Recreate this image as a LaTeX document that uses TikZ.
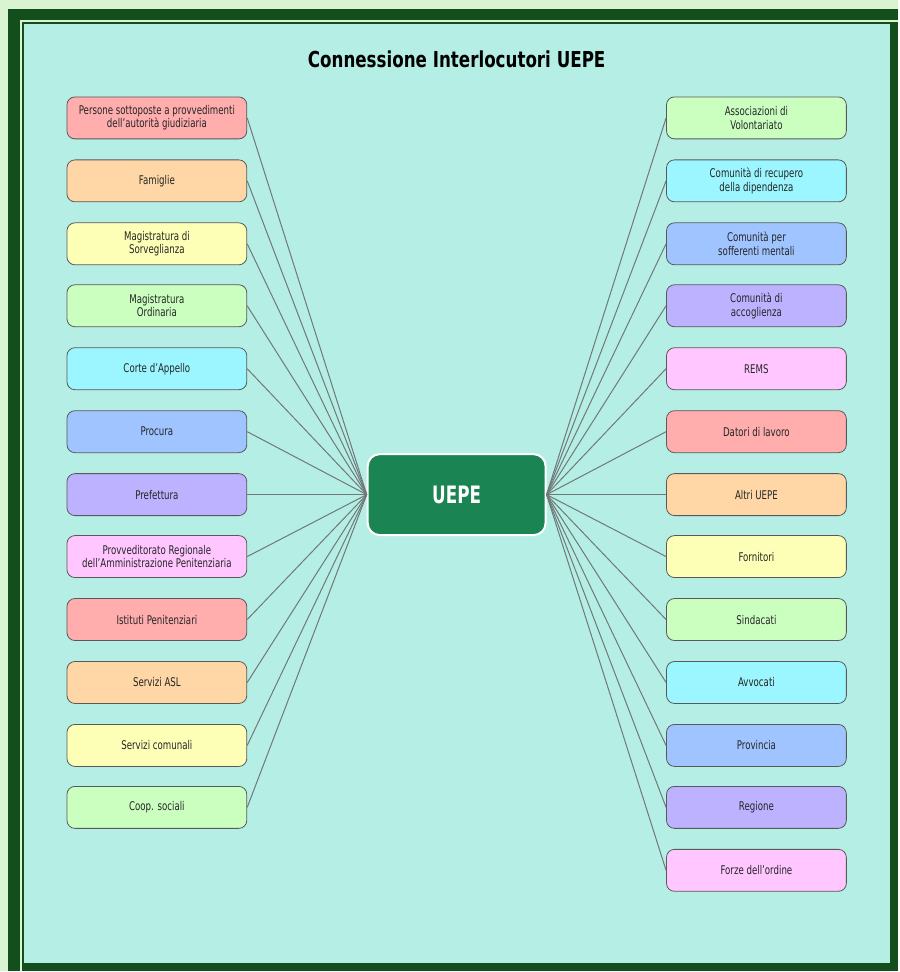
\documentclass[tikz,border=0pt]{standalone}
\usepackage{fontspec}
\setmainfont{DejaVu Sans}[FakeStretch=0.72]
\newfontfamily\titlefont{DejaVu Sans}[FakeStretch=0.76]
\newfontfamily\hubfont{DejaVu Sans}[FakeStretch=0.7]
\definecolor{bgout}{HTML}{DAF3D1}
\definecolor{frame}{HTML}{134F1C}
\definecolor{panel}{HTML}{B5EEE4}
\definecolor{hub}{HTML}{1A8553}
\definecolor{link}{HTML}{707878}
\definecolor{cA}{HTML}{FFADAD}
\definecolor{cB}{HTML}{FFD6A5}
\definecolor{cC}{HTML}{FDFFB6}
\definecolor{cD}{HTML}{CAFFBF}
\definecolor{cE}{HTML}{9BF6FF}
\definecolor{cF}{HTML}{A0C4FF}
\definecolor{cG}{HTML}{BDB2FF}
\definecolor{cH}{HTML}{FFC6FF}
\tikzset{
  box/.style={draw=black!65, line width=0.8pt, rounded corners=8pt, minimum width=180pt, minimum height=42pt, inner sep=2pt, align=center, text=black!85, font=\fontsize{12}{13.5}\selectfont},
  conn/.style={draw=link, line width=1pt},
}
\begin{document}
\begin{tikzpicture}[x=1pt,y=-1pt]
\fill[bgout] (0,0) rectangle (899,972);
\fill[frame] (8,9) rectangle (899,972);
\draw[bgout, line width=1.5pt] (21,972) -- (21,21) -- (899,21);
\fill[panel] (24,24) rectangle (891,964);
\useasboundingbox (0,0) rectangle (899,972);

\node[font=\titlefont\bfseries\fontsize{22}{24}\selectfont] (title) at (457,59) {Connessione Interlocutori UEPE};

\node[draw=white, line width=2pt, fill=hub, rounded corners=12pt, minimum width=178pt, minimum height=81pt, text=white, font=\hubfont\bfseries\fontsize{24}{26}\selectfont] (hubnode) at (457,495) {UEPE};

\node[box, fill=cA] (L1) at (157,118) {Persone sottoposte a provvedimenti\\dell’autorità giudiziaria};
\node[box, fill=cB] (L2) at (157,181) {Famiglie};
\node[box, fill=cC] (L3) at (157,244) {Magistratura di\\Sorveglianza};
\node[box, fill=cD] (L4) at (157,306) {Magistratura\\Ordinaria};
\node[box, fill=cE] (L5) at (157,369) {Corte d’Appello};
\node[box, fill=cF] (L6) at (157,432) {Procura};
\node[box, fill=cG] (L7) at (157,495) {Prefettura};
\node[box, fill=cH] (L8) at (157,557) {Provveditorato Regionale\\dell’Amministrazione Penitenziaria};
\node[box, fill=cA] (L9) at (157,620) {Istituti Penitenziari};
\node[box, fill=cB] (L10) at (157,683) {Servizi ASL};
\node[box, fill=cC] (L11) at (157,746) {Servizi comunali};
\node[box, fill=cD] (L12) at (157,808) {Coop. sociali};

\node[box, fill=cD] (R1) at (757,118) {Associazioni di\\Volontariato};
\node[box, fill=cE] (R2) at (757,181) {Comunità di recupero\\della dipendenza};
\node[box, fill=cF] (R3) at (757,244) {Comunità per\\sofferenti mentali};
\node[box, fill=cG] (R4) at (757,306) {Comunità di\\accoglienza};
\node[box, fill=cH] (R5) at (757,369) {REMS};
\node[box, fill=cA] (R6) at (757,432) {Datori di lavoro};
\node[box, fill=cB] (R7) at (757,495) {Altri UEPE};
\node[box, fill=cC] (R8) at (757,557) {Fornitori};
\node[box, fill=cD] (R9) at (757,620) {Sindacati};
\node[box, fill=cE] (R10) at (757,683) {Avvocati};
\node[box, fill=cF] (R11) at (757,746) {Provincia};
\node[box, fill=cG] (R12) at (757,808) {Regione};
\node[box, fill=cH] (R13) at (757,871) {Forze dell’ordine};

\foreach \i in {1,...,12} { \draw[conn] (L\i.east) -- (hubnode.west); }
\foreach \i in {1,...,13} { \draw[conn] (R\i.west) -- (hubnode.east); }
\end{tikzpicture}
\end{document}
